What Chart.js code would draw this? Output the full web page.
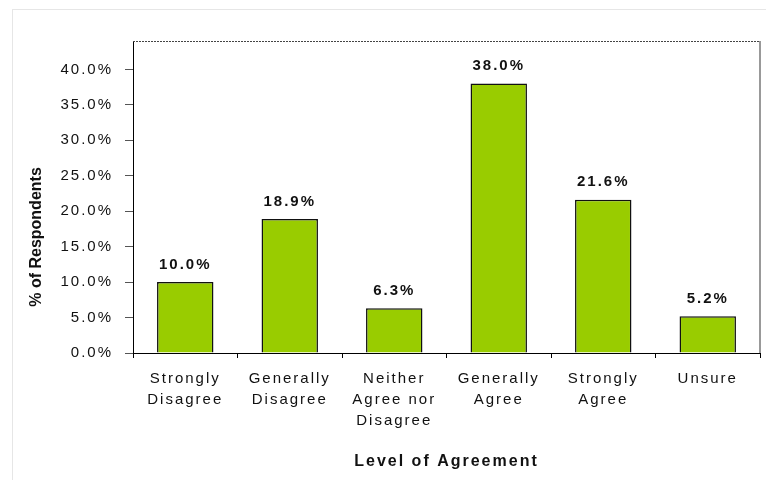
<!DOCTYPE html>
<html>
<head>
<meta charset="utf-8">
<script src="https://cdn.jsdelivr.net/npm/chart.js@4/dist/chart.umd.min.js"></script>
<style>
html, body { margin: 0; padding: 0; background: #fff; }
</style>
</head>
<body>
<canvas id="agreeBar" width="766" height="480"></canvas>
<script>
// level of agreement, share of respondents (%)
const categories = [
	['Strongly', 'Disagree'],
	['Generally', 'Disagree'],
	['Neither', 'Agree nor', 'Disagree'],
	['Generally', 'Agree'],
	['Strongly', 'Agree'],
	['Unsure']
];
const respondents = [10.0, 18.9, 6.3, 38.0, 21.6, 5.2];
const yTicks = [0, 5, 10, 15, 20, 25, 30, 35, 40];

Chart.defaults.font.family = '"Liberation Sans", Arial, sans-serif';
Chart.defaults.color = '#111';

const spacing = {
	id: 'spacing',
	beforeLayout(chart) {
		chart.ctx.letterSpacing = '2px';
	},
	beforeDraw(chart) {
		const ctx = chart.ctx;
		ctx.letterSpacing = '2px';
		// light outer frame
		ctx.save();
		ctx.strokeStyle = '#e6e6e6';
		ctx.lineWidth = 1;
		ctx.strokeRect(12.5, 9.5, 800, 500);
		ctx.restore();
	},
	beforeDatasetsDraw(chart) {
		const ctx = chart.ctx;
		const a = chart.chartArea;
		ctx.save();
		ctx.strokeStyle = '#444';
		ctx.lineWidth = 1;
		ctx.setLineDash([2, 1]);
		ctx.beginPath();
		ctx.moveTo(a.left, a.top + 0.5);
		ctx.lineTo(a.right, a.top + 0.5);
		ctx.stroke();
		ctx.setLineDash([]);
		ctx.strokeStyle = '#999';
		ctx.lineWidth = 2;
		ctx.beginPath();
		ctx.moveTo(a.right, a.top);
		ctx.lineTo(a.right, a.bottom);
		ctx.stroke();
		ctx.restore();
	},
	afterDatasetsDraw(chart) {
		const ctx = chart.ctx;
		ctx.save();
		ctx.font = 'bold 15px "Liberation Sans", Arial, sans-serif';
		ctx.letterSpacing = '2px';
		ctx.fillStyle = '#111';
		ctx.textAlign = 'center';
		ctx.textBaseline = 'middle';
		chart.getDatasetMeta(0).data.forEach((bar, i) => {
			ctx.fillText(respondents[i].toFixed(1) + '%', bar.x, bar.y - 17.5);
		});
		ctx.restore();
	},
	afterDraw(chart) {
		const ctx = chart.ctx;
		ctx.save();
		ctx.letterSpacing = '0px';
		ctx.font = 'bold 16px "Liberation Sans", Arial, sans-serif';
		ctx.fillStyle = '#111';
		ctx.textAlign = 'center';
		ctx.textBaseline = 'middle';
		ctx.translate(37, 237);
		ctx.rotate(-Math.PI / 2);
		ctx.fillText('% of Respondents', 0, 0);
		ctx.restore();
	}
};

new Chart(document.getElementById('agreeBar'), {
	type: 'bar',
	data: {
		labels: categories,
		datasets: [{
			data: respondents,
			backgroundColor: '#99cc00',
			borderColor: '#111',
			borderWidth: 1.5,
			barPercentage: 0.54,
			categoryPercentage: 1
		}]
	},
	options: {
		responsive: false,
		animation: false,
		layout: { padding: { top: 41, right: 6, bottom: 0, left: 0 } },
		plugins: {
			legend: { display: false },
			tooltip: { enabled: false }
		},
		scales: {
			x: {
				afterFit: s => { s.height = 127; },
				border: { color: '#000', width: 1 },
				grid: { offset: true, drawOnChartArea: false, tickLength: 5, tickColor: '#000' },
				ticks: { padding: 10, maxRotation: 0, autoSkip: false, font: { size: 15, lineHeight: 1.4 } },
				title: {
					display: true,
					text: 'Level of Agreement',
					font: { size: 16, weight: 'bold' },
					padding: { top: 0, bottom: 9 }
				}
			},
			y: {
				min: 0,
				max: 44,
				afterBuildTicks: s => { s.ticks = yTicks.map(v => ({ value: v })); },
				afterFit: s => { s.width = 133; },
				border: { color: '#000', width: 1 },
				grid: { drawOnChartArea: false, tickLength: 8, tickColor: '#555' },
				ticks: { padding: 12, font: { size: 15 }, callback: v => v.toFixed(1) + '%' }
			}
		}
	},
	plugins: [spacing]
});
</script>
</body>
</html>
